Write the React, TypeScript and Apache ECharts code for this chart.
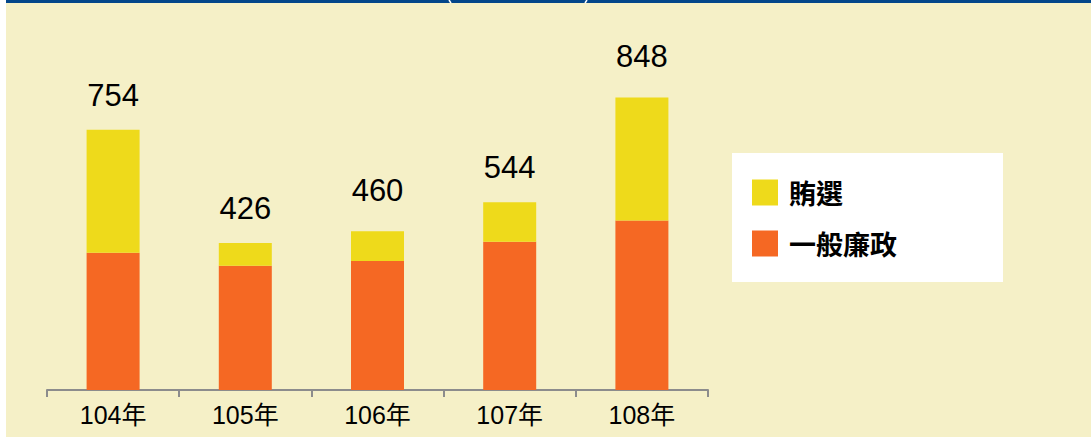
import React, { useEffect, useRef } from "react";
import * as echarts from "echarts";

const categories = ["104年", "105年", "106年", "107年", "108年"];
const generalValues = [398, 360, 374, 430, 491];
const bribeValues = [356, 66, 86, 114, 357];
const labelDistances = [19, 19, 25, 19, 25];
const legendNames = ["賄選", "一般廉政"];

const YELLOW = "#EEDA1B";
const ORANGE = "#F56823";
const BG = "#F5F0C7";
const FONT = "'Liberation Sans', Arial, 'Noto Sans CJK TC', sans-serif";

export default function App() {
  const ref = useRef<HTMLDivElement>(null);
  useEffect(() => {
    if (!ref.current) return;
    const chart = echarts.init(ref.current, null, { renderer: "svg" });
    const totals = generalValues.map((g, i) => g + bribeValues[i]);
    chart.setOption({
      animation: false,
      backgroundColor: "#ffffff",
      graphic: [
        { type: "rect", z: -10, shape: { x: 6, y: 0, width: 1085, height: 437 }, style: { fill: BG } },
        { type: "rect", z: -9, shape: { x: 6, y: 0, width: 1085, height: 3 }, style: { fill: "#03468A" } },
        { type: "line", z: -8, shape: { x1: 449, y1: 0, x2: 451, y2: 3 }, style: { stroke: "#ffffff", lineWidth: 1.5 } },
        { type: "line", z: -8, shape: { x1: 587, y1: 0, x2: 585, y2: 3 }, style: { stroke: "#ffffff", lineWidth: 1.5 } },
      ],
      grid: { left: 47, right: 383, top: 45, bottom: 47, containLabel: false },
      legend: {
        data: legendNames,
        orient: "vertical",
        left: 732,
        top: 153,
        backgroundColor: "#ffffff",
        padding: [26, 106, 25, 20],
        itemWidth: 26,
        itemHeight: 26,
        itemGap: 24,
        icon: "rect",
        textStyle: {
          fontSize: 27,
          fontWeight: "bold",
          color: "#000000",
          fontFamily: "'Noto Sans CJK TC', sans-serif",
          padding: [0, 0, 0, 6],
        },
      },
      xAxis: {
        type: "category",
        data: categories,
        axisLine: { lineStyle: { color: "#8C8C8C", width: 2 } },
        axisTick: { show: true, length: 7, lineStyle: { color: "#8C8C8C", width: 2 } },
        axisLabel: { fontSize: 25, color: "#000000", fontFamily: FONT, margin: 12 },
      },
      yAxis: {
        type: "value",
        min: 0,
        max: 1000,
        show: false,
        splitLine: { show: false },
      },
      series: [
        {
          name: "一般廉政",
          type: "bar",
          stack: "total",
          barWidth: 53,
          itemStyle: { color: ORANGE },
          data: generalValues,
        },
        {
          name: "賄選",
          type: "bar",
          stack: "total",
          barWidth: 53,
          itemStyle: { color: YELLOW },
          data: bribeValues.map((v, i) => ({
            value: v,
            label: {
              show: true,
              position: "top",
              distance: labelDistances[i],
              formatter: () => String(totals[i]),
              fontSize: 31,
              color: "#000000",
              fontFamily: FONT,
            },
          })),
        },
      ],
    });
    return () => chart.dispose();
  }, []);
  return (
    <div
      ref={ref}
      style={{ position: "fixed", left: 0, top: 0, width: 1091, height: 437 }}
    />
  );
}
